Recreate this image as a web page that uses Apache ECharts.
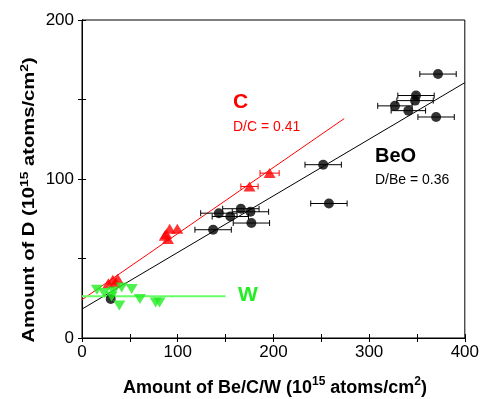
<!DOCTYPE html>
<html><head><meta charset="utf-8">
<script src="https://cdn.jsdelivr.net/npm/echarts@6/dist/echarts.min.js"></script>
<style>html,body{margin:0;padding:0;background:#fff}#c{width:482px;height:399px}</style>
</head><body><div id="c"></div>
<script>
// BeO (black circles) with horizontal error
const beoX = [372, 349, 348, 327, 341, 370, 252, 258, 166, 143, 176, 155, 177, 137, 30];
const beoY = [166, 152.5, 149.3, 146, 143, 139, 109, 84.6, 81.3, 78.5, 79.4, 76.4, 72.3, 68.1, 24.5];
const beoErr = [19, 19, 19, 18, 18, 19, 19, 19, 19, 19, 19, 19, 19, 19, 0];
// C (red up triangles)
const cX = [196, 175, 99.6, 91.6, 86.4, 89.8, 88, 37.3, 32.2, 27.6, 35];
const cY = [103.7, 95.3, 68.7, 68.7, 64.3, 62.2, 65.5, 37.2, 36.6, 34.5, 35];
const cErr = [10, 9, 0, 0, 0, 0, 0, 0, 0, 0, 0];
// W (green down triangles)
const wX = [15.6, 23.1, 32.8, 41.5, 51.9, 39, 60.5, 77, 81, 31];
const wY = [30.3, 28.3, 29.3, 31.8, 30.8, 20.5, 24.5, 22.4, 22.4, 26.1];
// fit lines (endpoints)
const beoFitX = [0, 400], beoFitY = [18.2, 160.6];
const cFitX = [0, 274], cFitY = [24.1, 138];
const wFitX = [0, 150], wFitY = [26.2, 26.2];
// axis ticks
const xTicks = [0, 100, 200, 300, 400];
const yTicks = [0, 100, 200];

const FONT = 'Liberation Sans, Arial, sans-serif';
const zip = (a, b, c) => a.map((v, i) => c ? [v, b[i], c[i]] : [v, b[i]]);

function errItem(color) {
  return function (params, api) {
    const x = api.value(0), y = api.value(1), e = api.value(2);
    if (!e) return null;
    const p1 = api.coord([x - e, y]);
    const p2 = api.coord([x + e, y]);
    const h = 3;
    const st = { stroke: color, lineWidth: 1 };
    return { type: 'group', children: [
      { type: 'line', shape: { x1: p1[0], y1: p1[1], x2: p2[0], y2: p2[1] }, style: st },
      { type: 'line', shape: { x1: p1[0], y1: p1[1] - h, x2: p1[0], y2: p1[1] + h }, style: st },
      { type: 'line', shape: { x1: p2[0], y1: p2[1] - h, x2: p2[0], y2: p2[1] + h }, style: st }
    ]};
  };
}

const axBase = {
  min: 0, axisLine: { show: true, lineStyle: { color: '#000', width: 1 } },
  axisTick: { show: true, inside: true, length: 4, lineStyle: { color: '#000' } },
  minorTick: { show: true, splitNumber: 2, length: 4, lineStyle: { color: '#000' } },
  splitLine: { show: false }, minorSplitLine: { show: false }
};

const chart = echarts.init(document.getElementById('c'));
chart.setOption({
  animation: false,
  grid: { left: 82, right: 15, top: 20, bottom: 61, show: true, borderColor: '#000', borderWidth: 1 },
  xAxis: [
    Object.assign({}, axBase, { type: 'value', max: xTicks[xTicks.length - 1], interval: 100, position: 'bottom',
      axisLabel: { color: '#000', fontSize: 17, fontFamily: FONT, margin: 6 } }),
    Object.assign({}, axBase, { type: 'value', max: 400, interval: 100, position: 'top', axisLabel: { show: false } })
  ],
  yAxis: [
    Object.assign({}, axBase, { type: 'value', max: yTicks[yTicks.length - 1], interval: 100, position: 'left',
      axisLabel: { color: '#000', fontSize: 17, fontFamily: FONT, margin: 8 } }),
    Object.assign({}, axBase, { type: 'value', max: 200, interval: 100, position: 'right', axisLabel: { show: false } })
  ],
  series: [
    { type: 'line', data: zip(beoFitX, beoFitY), symbol: 'none', lineStyle: { color: '#000', width: 1 }, z: 1 },
    { type: 'line', data: zip(cFitX, cFitY), symbol: 'none', lineStyle: { color: '#ff0000', width: 1 }, z: 1 },
    { type: 'line', data: zip(wFitX, wFitY), symbol: 'none', lineStyle: { color: '#66ff66', width: 2 }, z: 1 },
    { type: 'custom', data: zip(beoX, beoY, beoErr), renderItem: errItem('#000'), z: 2 },
    { type: 'scatter', data: zip(beoX, beoY), symbol: 'circle', symbolSize: 10, itemStyle: { color: '#000' }, z: 3 },
    { type: 'custom', data: zip(cX, cY, cErr), renderItem: errItem('#ff0000'), z: 4 },
    { type: 'scatter', data: zip(cX, cY), symbol: 'triangle', symbolSize: [12, 10], itemStyle: { color: '#ff0000' }, z: 5 },
    { type: 'scatter', data: zip(wX, wY), symbol: 'triangle', symbolRotate: 180, symbolSize: [12, 10], itemStyle: { color: '#22ee22' }, z: 6 }
  ],
  graphic: [
    { type: 'text', left: 233, top: 92, style: { text: 'C', fill: '#ff0000', font: 'bold 21px ' + FONT } },
    { type: 'text', left: 233, top: 120, style: { text: 'D/C = 0.41', fill: '#ff0000', font: '14px ' + FONT } },
    { type: 'text', left: 375, top: 146, style: { text: 'BeO', fill: '#000', font: 'bold 20px ' + FONT } },
    { type: 'text', left: 375, top: 173, style: { text: 'D/Be = 0.36', fill: '#000', font: '14px ' + FONT } },
    { type: 'text', left: 238, top: 285, style: { text: 'W', fill: '#22ee22', font: 'bold 21px ' + FONT } },
    { type: 'text', x: 275, y: 388, style: {
        text: 'Amount of Be/C/W (10{s|15} atoms/cm{s|2})', align: 'center', verticalAlign: 'middle',
        font: 'bold 18px ' + FONT, fill: '#000', lineHeight: 24,
        rich: { s: { fontSize: 12, fontWeight: 'bold', fontFamily: FONT, verticalAlign: 'top', lineHeight: 15 } } } },
    { type: 'text', x: 30, y: 200, rotation: Math.PI / 2, scaleX: 1.26, style: {
        text: 'Amount of D (10{s|15} atoms/cm{s|2})', align: 'center', verticalAlign: 'middle',
        font: 'bold 16px ' + FONT, fill: '#000', lineHeight: 22,
        rich: { s: { fontSize: 11, fontWeight: 'bold', fontFamily: FONT, verticalAlign: 'top', lineHeight: 14 } } } }
  ]
});
</script></body></html>
